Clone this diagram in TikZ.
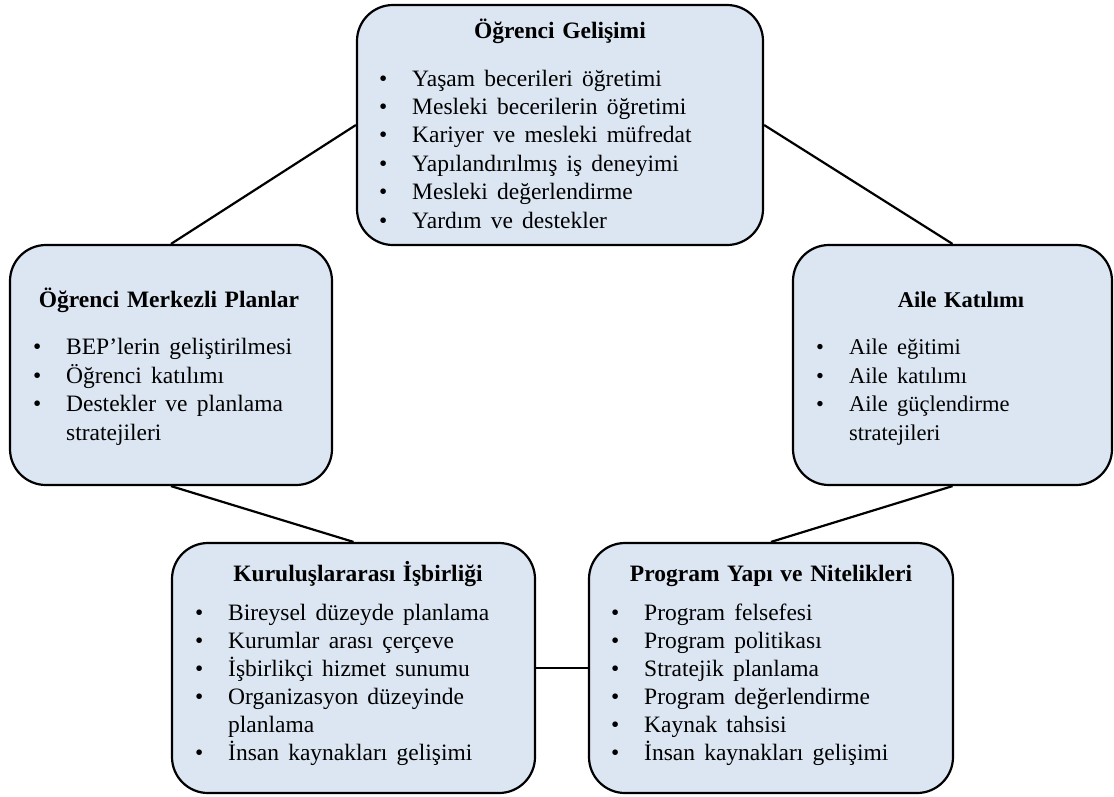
\documentclass[tikz,border=0pt]{standalone}
\usepackage{fontspec}
\setmainfont{Liberation Serif}
\definecolor{boxblue}{HTML}{DCE6F2}
\newcommand{\bl}{\makebox[33pt][l]{\textbullet}}
\newcommand{\nb}{\makebox[33pt][l]{}}
\newcommand{\ttlsp}{\spaceskip=7.6pt plus 2pt\relax}
\newcommand{\lstsp}{\spaceskip=9.2pt plus 2pt\relax}
\begin{document}
\begin{tikzpicture}[x=1pt,y=-1pt,
  box/.style={draw=black, line width=2.2pt, rounded corners=36pt, fill=boxblue, inner sep=0pt},
  ttl/.style={font=\bfseries\fontsize{23.5}{28}\selectfont\ttlsp, anchor=base, inner sep=0pt},
  lst/.style={font=\fontsize{23.5}{28.4}\selectfont\lstsp, anchor=base west, align=left, inner sep=0pt},
  link/.style={line width=2.2pt}]
\useasboundingbox (0,0) rectangle (1114,796);
% boxes
\node[box, minimum width=406pt, minimum height=240pt] (top) at (560,125) {};
\node[box, minimum width=322pt, minimum height=240pt] (left) at (171,365) {};
\node[box, minimum width=319pt, minimum height=240pt] (right) at (952.5,365) {};
\node[box, minimum width=363pt, minimum height=250pt] (bl) at (353.5,668) {};
\node[box, minimum width=364pt, minimum height=250pt] (br) at (771,668) {};
% connectors
\draw[link] (left.north) -- (top.west);
\draw[link] (top.east) -- (right.north);
\draw[link] (left.south) -- (bl.north);
\draw[link] (right.south) -- (br.north);
\draw[link] (bl.east) -- (br.west);
% texts (list anchor = baseline of last line)
\node[ttl] (topT) at (560,38) {Öğrenci Gelişimi};
\node[lst] (topL) at (379,228) {\bl Yaşam becerileri öğretimi\\ \bl Mesleki becerilerin öğretimi\\ \bl Kariyer ve mesleki müfredat\\ \bl Yapılandırılmış iş deneyimi\\ \bl Mesleki değerlendirme\\ \bl Yardım ve destekler};
\node[ttl] (leftT) at (169,307) {Öğrenci Merkezli Planlar};
\node[lst] (leftL) at (33,440) {\bl BEP’lerin geliştirilmesi\\ \bl Öğrenci katılımı\\ \bl Destekler ve planlama\\ \nb stratejileri};
\node[ttl, font=\bfseries\fontsize{22.5}{28}\selectfont\ttlsp] (rightT) at (961,307) {Aile Katılımı};
\node[lst, font=\fontsize{22.5}{28.4}\selectfont\lstsp] (rightL) at (816,440) {\bl Aile eğitimi\\ \bl Aile katılımı\\ \bl Aile güçlendirme\\ \nb stratejileri};
\node[ttl] (blT) at (358,581) {Kuruluşlararası İşbirliği};
\node[lst, font=\fontsize{23.5}{28}\selectfont\lstsp] (blL) at (195,760) {\bl Bireysel düzeyde planlama\\ \bl Kurumlar arası çerçeve\\ \bl İşbirlikçi hizmet sunumu\\ \bl Organizasyon düzeyinde\\ \nb planlama\\ \bl İnsan kaynakları gelişimi};
\node[ttl] (brT) at (771,581) {Program Yapı ve Nitelikleri};
\node[lst, font=\fontsize{23.5}{28}\selectfont\lstsp] (brL) at (611,760) {\bl Program felsefesi\\ \bl Program politikası\\ \bl Stratejik planlama\\ \bl Program değerlendirme\\ \bl Kaynak tahsisi\\ \bl İnsan kaynakları gelişimi};
\end{tikzpicture}
\end{document}
